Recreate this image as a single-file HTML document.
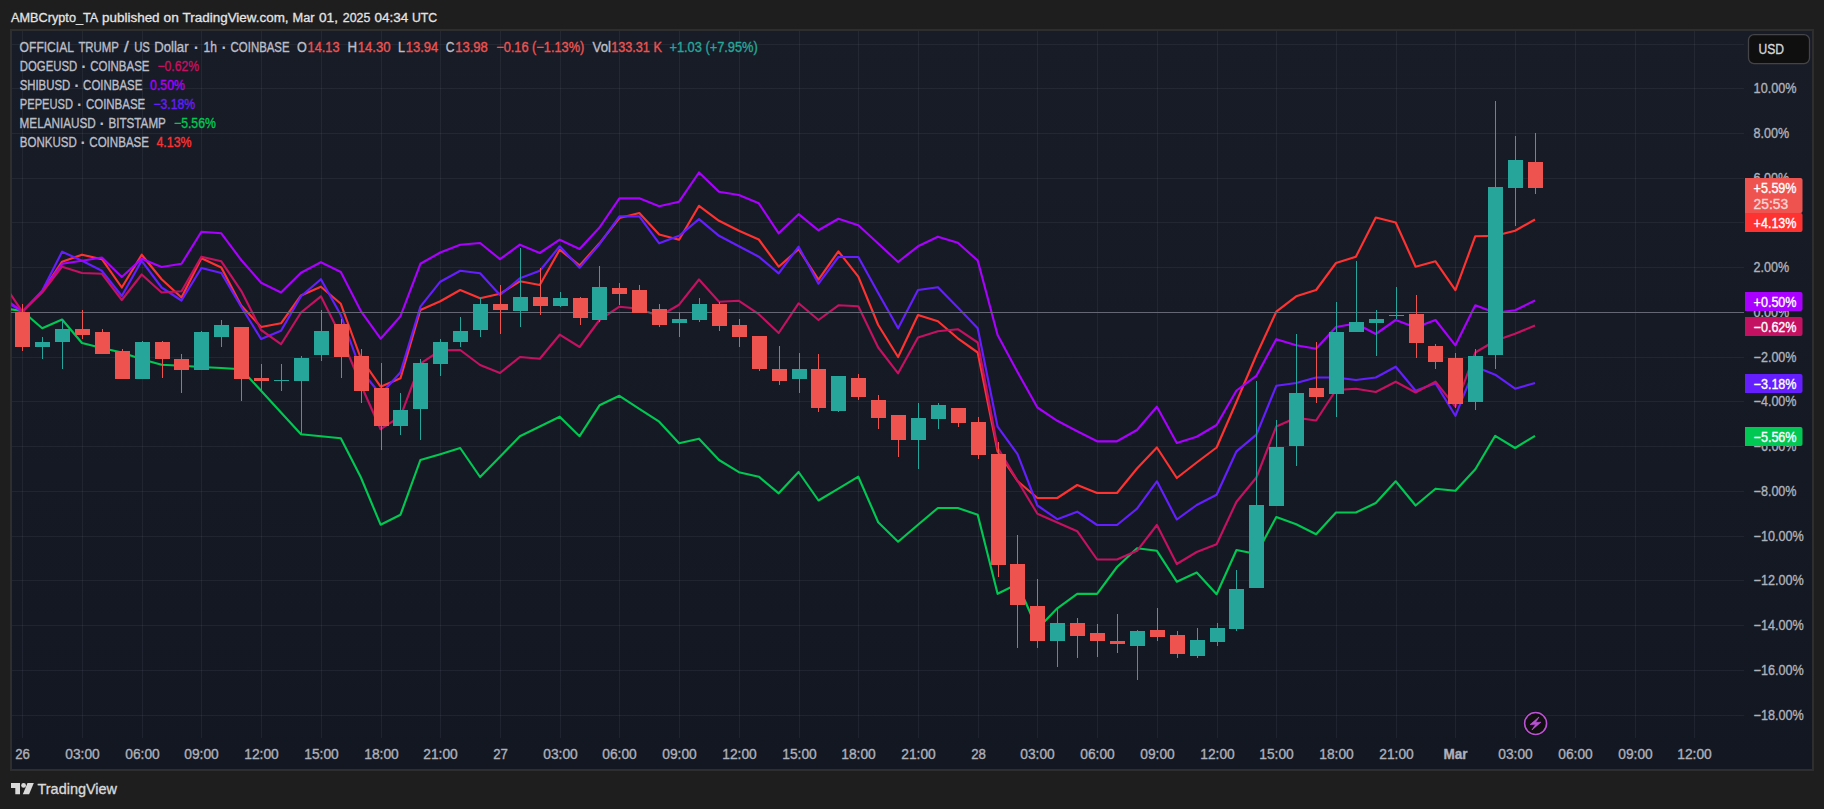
<!DOCTYPE html>
<html lang="en"><head><meta charset="utf-8"><title>OFFICIAL TRUMP / US Dollar - TradingView</title>
<style>html,body{margin:0;padding:0;background:#1e1e1e;overflow:hidden}svg{display:block}text{font-family:"Liberation Sans", sans-serif;white-space:pre}</style>
</head><body>
<svg width="1824" height="809" viewBox="0 0 1824 809">
<defs><linearGradient id="bg" x1="0" y1="0" x2="0" y2="1"><stop offset="0" stop-color="#181c27"/><stop offset="1" stop-color="#131722"/></linearGradient>
<clipPath id="plot"><rect x="11" y="30" width="1733" height="708"/></clipPath></defs>
<rect x="0" y="0" width="1824" height="809" fill="#1e1e1e"/>
<rect x="10" y="29" width="1804" height="742" fill="#2e2e2e"/>
<rect x="12" y="31" width="1800" height="738" fill="url(#bg)"/>
<g shape-rendering="crispEdges" fill="#f0f3fa" fill-opacity="0.06">
<rect x="22" y="31" width="1" height="707"/>
<rect x="82" y="31" width="1" height="707"/>
<rect x="142" y="31" width="1" height="707"/>
<rect x="201" y="31" width="1" height="707"/>
<rect x="261" y="31" width="1" height="707"/>
<rect x="321" y="31" width="1" height="707"/>
<rect x="381" y="31" width="1" height="707"/>
<rect x="440" y="31" width="1" height="707"/>
<rect x="500" y="31" width="1" height="707"/>
<rect x="560" y="31" width="1" height="707"/>
<rect x="619" y="31" width="1" height="707"/>
<rect x="679" y="31" width="1" height="707"/>
<rect x="739" y="31" width="1" height="707"/>
<rect x="799" y="31" width="1" height="707"/>
<rect x="858" y="31" width="1" height="707"/>
<rect x="918" y="31" width="1" height="707"/>
<rect x="978" y="31" width="1" height="707"/>
<rect x="1037" y="31" width="1" height="707"/>
<rect x="1097" y="31" width="1" height="707"/>
<rect x="1157" y="31" width="1" height="707"/>
<rect x="1217" y="31" width="1" height="707"/>
<rect x="1276" y="31" width="1" height="707"/>
<rect x="1336" y="31" width="1" height="707"/>
<rect x="1396" y="31" width="1" height="707"/>
<rect x="1455" y="31" width="1" height="707"/>
<rect x="1515" y="31" width="1" height="707"/>
<rect x="1575" y="31" width="1" height="707"/>
<rect x="1635" y="31" width="1" height="707"/>
<rect x="1694" y="31" width="1" height="707"/>
<rect x="12" y="44" width="1732" height="1"/>
<rect x="12" y="88" width="1732" height="1"/>
<rect x="12" y="133" width="1732" height="1"/>
<rect x="12" y="178" width="1732" height="1"/>
<rect x="12" y="222" width="1732" height="1"/>
<rect x="12" y="267" width="1732" height="1"/>
<rect x="12" y="357" width="1732" height="1"/>
<rect x="12" y="401" width="1732" height="1"/>
<rect x="12" y="446" width="1732" height="1"/>
<rect x="12" y="491" width="1732" height="1"/>
<rect x="12" y="536" width="1732" height="1"/>
<rect x="12" y="580" width="1732" height="1"/>
<rect x="12" y="625" width="1732" height="1"/>
<rect x="12" y="670" width="1732" height="1"/>
<rect x="12" y="715" width="1732" height="1"/>
</g>
<g clip-path="url(#plot)">
<polyline points="22.3,311.7 42.2,291.7 62.1,261.7 82.0,254.7 101.9,259.2 121.8,287.5 141.7,254.7 161.6,279.2 181.5,297.5 201.4,258.3 221.3,267.5 241.2,305.5 261.1,327.0 281.0,323.3 301.0,295.5 320.9,286.7 340.8,303.8 360.7,358.0 380.6,386.7 400.5,378.3 420.4,310.0 440.3,301.3 460.2,290.0 480.1,298.3 500.0,293.8 519.9,281.3 539.8,285.0 559.7,249.7 579.6,265.4 599.5,243.3 619.4,218.0 639.3,213.0 659.2,234.5 679.1,239.7 699.0,205.8 719.0,220.8 738.9,230.8 758.8,239.5 778.7,266.7 798.6,249.2 818.5,279.7 838.4,251.3 858.3,276.7 878.2,325.0 898.1,357.0 918.0,315.0 937.9,321.3 957.8,338.3 977.7,352.5 997.6,451.5 1017.5,481.0 1037.4,498.0 1057.3,498.0 1077.2,485.0 1097.1,493.0 1117.0,493.0 1137.0,468.5 1156.9,447.5 1176.8,478.0 1196.7,462.5 1216.6,447.5 1236.5,401.7 1256.4,355.0 1276.3,311.7 1296.2,296.3 1316.1,290.0 1336.0,263.0 1355.9,256.7 1375.8,217.5 1395.7,222.5 1415.6,266.7 1435.5,261.3 1455.4,290.2 1475.3,236.2 1495.2,235.8 1515.1,230.8 1535.0,219.5" fill="none" stroke="#ff3232" stroke-width="2.15" stroke-linejoin="round" stroke-linecap="butt"/>
<polyline points="2.4,308.0 22.3,311.0 42.2,328.3 62.1,319.5 82.0,343.0 101.9,348.0 121.8,352.5 141.7,359.2 161.6,364.7 181.5,365.8 201.4,367.0 221.3,368.0 241.2,369.2 261.1,390.8 281.0,412.5 301.0,434.2 320.9,436.2 340.8,438.3 360.7,477.0 380.6,524.7 400.5,514.7 420.4,460.0 440.3,454.2 460.2,448.0 480.1,477.0 500.0,456.7 519.9,436.2 539.8,426.5 559.7,416.7 579.6,436.2 599.5,405.3 619.4,395.8 639.3,408.8 659.2,421.7 679.1,443.3 699.0,438.7 719.0,460.0 738.9,472.2 758.8,476.7 778.7,493.3 798.6,472.0 818.5,500.5 838.4,488.7 858.3,476.7 878.2,522.2 898.1,541.7 918.0,524.7 937.9,508.0 957.8,508.0 977.7,514.7 997.6,593.8 1017.5,584.0 1037.4,629.0 1057.3,608.3 1077.2,593.8 1097.1,593.8 1117.0,567.0 1137.0,548.3 1156.9,550.8 1176.8,581.7 1196.7,572.5 1216.6,594.2 1236.5,550.0 1256.4,554.0 1276.3,517.0 1296.2,524.2 1316.1,534.2 1336.0,512.5 1355.9,512.5 1375.8,503.0 1395.7,481.3 1415.6,505.5 1435.5,488.7 1455.4,490.8 1475.3,469.2 1495.2,435.8 1515.1,448.0 1535.0,435.8" fill="none" stroke="#00c853" stroke-width="2.15" stroke-linejoin="round" stroke-linecap="butt"/>
<polyline points="2.4,299.6 22.3,311.7 42.2,290.8 62.1,251.7 82.0,260.8 101.9,270.8 121.8,296.0 141.7,260.8 161.6,287.5 181.5,300.5 201.4,268.0 221.3,273.0 241.2,306.7 261.1,339.0 281.0,330.8 301.0,296.3 320.9,279.2 340.8,315.0 360.7,370.0 380.6,394.5 400.5,372.2 420.4,306.7 440.3,281.7 460.2,270.8 480.1,273.3 500.0,295.0 519.9,278.3 539.8,270.8 559.7,246.3 579.6,267.7 599.5,244.2 619.4,216.3 639.3,216.3 659.2,243.3 679.1,235.8 699.0,219.2 719.0,235.8 738.9,246.2 758.8,256.7 778.7,273.3 798.6,246.7 818.5,283.7 838.4,257.0 858.3,257.0 878.2,293.0 898.1,328.3 918.0,290.0 937.9,287.2 957.8,307.5 977.7,328.3 997.6,426.7 1017.5,454.2 1037.4,505.5 1057.3,519.2 1077.2,511.7 1097.1,525.0 1117.0,525.0 1137.0,508.7 1156.9,481.3 1176.8,519.5 1196.7,505.0 1216.6,494.7 1236.5,451.3 1256.4,434.7 1276.3,385.8 1296.2,383.0 1316.1,377.5 1336.0,377.5 1355.9,380.0 1375.8,377.5 1395.7,366.7 1415.6,390.8 1435.5,383.3 1455.4,415.8 1475.3,366.7 1495.2,374.7 1515.1,388.7 1535.0,383.0" fill="none" stroke="#651fff" stroke-width="2.15" stroke-linejoin="round" stroke-linecap="butt"/>
<polyline points="2.4,296.8 22.3,311.7 42.2,291.3 62.1,263.8 82.0,260.8 101.9,257.5 121.8,277.0 141.7,258.7 161.6,267.0 181.5,263.8 201.4,231.7 221.3,233.3 241.2,260.0 261.1,282.8 281.0,292.5 301.0,272.8 320.9,262.2 340.8,272.0 360.7,310.8 380.6,338.7 400.5,316.2 420.4,263.8 440.3,252.5 460.2,244.7 480.1,243.0 500.0,259.2 519.9,244.7 539.8,253.0 559.7,239.7 579.6,249.0 599.5,227.5 619.4,198.3 639.3,198.3 659.2,206.3 679.1,201.7 699.0,172.5 719.0,191.7 738.9,195.0 758.8,203.3 778.7,233.3 798.6,214.2 818.5,230.3 838.4,218.8 858.3,225.3 878.2,243.5 898.1,262.0 918.0,246.3 937.9,236.7 957.8,242.8 977.7,260.5 997.6,335.0 1017.5,372.0 1037.4,407.5 1057.3,420.8 1077.2,431.3 1097.1,441.3 1117.0,441.3 1137.0,430.0 1156.9,406.7 1176.8,443.0 1196.7,436.7 1216.6,425.0 1236.5,390.5 1256.4,375.8 1276.3,339.2 1296.2,345.3 1316.1,348.7 1336.0,327.0 1355.9,323.5 1375.8,334.0 1395.7,320.0 1415.6,327.5 1435.5,320.0 1455.4,345.3 1475.3,305.3 1495.2,312.8 1515.1,310.3 1535.0,300.5" fill="none" stroke="#aa00ff" stroke-width="2.15" stroke-linejoin="round" stroke-linecap="butt"/>
<polyline points="2.4,282.0 22.3,311.7 42.2,292.5 62.1,266.7 82.0,273.0 101.9,273.8 121.8,300.0 141.7,274.5 161.6,292.5 181.5,291.3 201.4,256.7 221.3,261.3 241.2,290.8 261.1,330.0 281.0,344.2 301.0,312.5 320.9,296.3 340.8,336.0 360.7,384.2 380.6,429.2 400.5,416.3 420.4,363.7 440.3,350.3 460.2,350.0 480.1,365.0 500.0,373.0 519.9,357.0 539.8,358.7 559.7,334.7 579.6,347.0 599.5,320.0 619.4,306.7 639.3,308.7 659.2,316.3 679.1,304.7 699.0,279.5 719.0,301.7 738.9,300.8 758.8,314.2 778.7,333.0 798.6,303.3 818.5,320.0 838.4,305.3 858.3,306.2 878.2,347.5 898.1,373.3 918.0,337.5 937.9,331.3 957.8,329.2 977.7,342.5 997.6,447.5 1017.5,480.8 1037.4,513.7 1057.3,522.5 1077.2,531.2 1097.1,559.5 1117.0,559.5 1137.0,550.8 1156.9,525.0 1176.8,564.0 1196.7,552.0 1216.6,544.2 1236.5,501.7 1256.4,477.5 1276.3,426.5 1296.2,417.8 1316.1,420.5 1336.0,390.0 1355.9,388.7 1375.8,392.0 1395.7,381.7 1415.6,392.5 1435.5,381.7 1455.4,406.7 1475.3,352.5 1495.2,340.8 1515.1,333.8 1535.0,325.5" fill="none" stroke="#c51162" stroke-width="2.15" stroke-linejoin="round" stroke-linecap="butt"/>
<rect x="11" y="312" width="1733" height="1" fill="#656874" shape-rendering="crispEdges"/>
<g shape-rendering="crispEdges">
<rect x="22" y="304" width="1" height="47" fill="#ef5350"/>
<rect x="15" y="312" width="15" height="35" fill="#ef5350"/>
<rect x="42" y="337" width="1" height="22" fill="#26a69a"/>
<rect x="35" y="342" width="15" height="5" fill="#26a69a"/>
<rect x="62" y="319" width="1" height="50" fill="#26a69a"/>
<rect x="55" y="329" width="15" height="13" fill="#26a69a"/>
<rect x="82" y="310" width="1" height="29" fill="#ef5350"/>
<rect x="75" y="329" width="15" height="6" fill="#ef5350"/>
<rect x="102" y="329" width="1" height="25" fill="#ef5350"/>
<rect x="95" y="332" width="15" height="22" fill="#ef5350"/>
<rect x="122" y="349" width="1" height="30" fill="#ef5350"/>
<rect x="115" y="351" width="15" height="28" fill="#ef5350"/>
<rect x="142" y="341" width="1" height="38" fill="#26a69a"/>
<rect x="135" y="342" width="15" height="37" fill="#26a69a"/>
<rect x="162" y="341" width="1" height="37" fill="#ef5350"/>
<rect x="155" y="342" width="15" height="17" fill="#ef5350"/>
<rect x="181" y="354" width="1" height="39" fill="#ef5350"/>
<rect x="174" y="359" width="15" height="11" fill="#ef5350"/>
<rect x="201" y="331" width="1" height="39" fill="#26a69a"/>
<rect x="194" y="332" width="15" height="38" fill="#26a69a"/>
<rect x="221" y="320" width="1" height="27" fill="#26a69a"/>
<rect x="214" y="325" width="15" height="12" fill="#26a69a"/>
<rect x="241" y="327" width="1" height="74" fill="#ef5350"/>
<rect x="234" y="327" width="15" height="52" fill="#ef5350"/>
<rect x="261" y="364" width="1" height="28" fill="#ef5350"/>
<rect x="254" y="378" width="15" height="3" fill="#ef5350"/>
<rect x="281" y="364" width="1" height="27" fill="#26a69a"/>
<rect x="274" y="380" width="15" height="1" fill="#26a69a"/>
<rect x="301" y="356" width="1" height="78" fill="#26a69a"/>
<rect x="294" y="358" width="15" height="23" fill="#26a69a"/>
<rect x="321" y="310" width="1" height="51" fill="#26a69a"/>
<rect x="314" y="331" width="15" height="24" fill="#26a69a"/>
<rect x="341" y="319" width="1" height="59" fill="#ef5350"/>
<rect x="334" y="324" width="15" height="33" fill="#ef5350"/>
<rect x="361" y="349" width="1" height="54" fill="#ef5350"/>
<rect x="354" y="356" width="15" height="35" fill="#ef5350"/>
<rect x="381" y="363" width="1" height="87" fill="#ef5350"/>
<rect x="374" y="388" width="15" height="38" fill="#ef5350"/>
<rect x="400" y="393" width="1" height="42" fill="#26a69a"/>
<rect x="393" y="410" width="15" height="16" fill="#26a69a"/>
<rect x="420" y="359" width="1" height="81" fill="#26a69a"/>
<rect x="413" y="363" width="15" height="46" fill="#26a69a"/>
<rect x="440" y="339" width="1" height="37" fill="#26a69a"/>
<rect x="433" y="342" width="15" height="22" fill="#26a69a"/>
<rect x="460" y="317" width="1" height="30" fill="#26a69a"/>
<rect x="453" y="331" width="15" height="11" fill="#26a69a"/>
<rect x="480" y="298" width="1" height="39" fill="#26a69a"/>
<rect x="473" y="304" width="15" height="26" fill="#26a69a"/>
<rect x="500" y="285" width="1" height="49" fill="#ef5350"/>
<rect x="493" y="304" width="15" height="6" fill="#ef5350"/>
<rect x="520" y="248" width="1" height="79" fill="#26a69a"/>
<rect x="513" y="297" width="15" height="14" fill="#26a69a"/>
<rect x="540" y="268" width="1" height="47" fill="#ef5350"/>
<rect x="533" y="297" width="15" height="9" fill="#ef5350"/>
<rect x="560" y="292" width="1" height="15" fill="#26a69a"/>
<rect x="553" y="298" width="15" height="8" fill="#26a69a"/>
<rect x="580" y="297" width="1" height="28" fill="#ef5350"/>
<rect x="573" y="298" width="15" height="20" fill="#ef5350"/>
<rect x="599" y="266" width="1" height="56" fill="#26a69a"/>
<rect x="592" y="287" width="15" height="33" fill="#26a69a"/>
<rect x="619" y="283" width="1" height="22" fill="#ef5350"/>
<rect x="612" y="288" width="15" height="6" fill="#ef5350"/>
<rect x="639" y="285" width="1" height="28" fill="#ef5350"/>
<rect x="632" y="290" width="15" height="23" fill="#ef5350"/>
<rect x="659" y="304" width="1" height="23" fill="#ef5350"/>
<rect x="652" y="309" width="15" height="16" fill="#ef5350"/>
<rect x="679" y="312" width="1" height="25" fill="#26a69a"/>
<rect x="672" y="319" width="15" height="4" fill="#26a69a"/>
<rect x="699" y="298" width="1" height="24" fill="#26a69a"/>
<rect x="692" y="304" width="15" height="16" fill="#26a69a"/>
<rect x="719" y="302" width="1" height="29" fill="#ef5350"/>
<rect x="712" y="304" width="15" height="22" fill="#ef5350"/>
<rect x="739" y="319" width="1" height="28" fill="#ef5350"/>
<rect x="732" y="325" width="15" height="12" fill="#ef5350"/>
<rect x="759" y="336" width="1" height="35" fill="#ef5350"/>
<rect x="752" y="336" width="15" height="33" fill="#ef5350"/>
<rect x="779" y="346" width="1" height="39" fill="#ef5350"/>
<rect x="772" y="369" width="15" height="12" fill="#ef5350"/>
<rect x="799" y="353" width="1" height="40" fill="#26a69a"/>
<rect x="792" y="369" width="15" height="10" fill="#26a69a"/>
<rect x="818" y="354" width="1" height="58" fill="#ef5350"/>
<rect x="811" y="369" width="15" height="39" fill="#ef5350"/>
<rect x="838" y="376" width="1" height="36" fill="#26a69a"/>
<rect x="831" y="376" width="15" height="35" fill="#26a69a"/>
<rect x="858" y="374" width="1" height="26" fill="#ef5350"/>
<rect x="851" y="378" width="15" height="19" fill="#ef5350"/>
<rect x="878" y="395" width="1" height="34" fill="#ef5350"/>
<rect x="871" y="400" width="15" height="18" fill="#ef5350"/>
<rect x="898" y="415" width="1" height="42" fill="#ef5350"/>
<rect x="891" y="415" width="15" height="25" fill="#ef5350"/>
<rect x="918" y="403" width="1" height="66" fill="#26a69a"/>
<rect x="911" y="418" width="15" height="22" fill="#26a69a"/>
<rect x="938" y="403" width="1" height="26" fill="#26a69a"/>
<rect x="931" y="405" width="15" height="14" fill="#26a69a"/>
<rect x="958" y="408" width="1" height="19" fill="#ef5350"/>
<rect x="951" y="408" width="15" height="15" fill="#ef5350"/>
<rect x="978" y="417" width="1" height="42" fill="#ef5350"/>
<rect x="971" y="422" width="15" height="33" fill="#ef5350"/>
<rect x="998" y="442" width="1" height="135" fill="#ef5350"/>
<rect x="991" y="454" width="15" height="111" fill="#ef5350"/>
<rect x="1017" y="535" width="1" height="113" fill="#ef5350"/>
<rect x="1010" y="564" width="15" height="41" fill="#ef5350"/>
<rect x="1037" y="579" width="1" height="69" fill="#ef5350"/>
<rect x="1030" y="606" width="15" height="35" fill="#ef5350"/>
<rect x="1057" y="609" width="1" height="58" fill="#26a69a"/>
<rect x="1050" y="623" width="15" height="18" fill="#26a69a"/>
<rect x="1077" y="618" width="1" height="40" fill="#ef5350"/>
<rect x="1070" y="623" width="15" height="13" fill="#ef5350"/>
<rect x="1097" y="624" width="1" height="33" fill="#ef5350"/>
<rect x="1090" y="633" width="15" height="8" fill="#ef5350"/>
<rect x="1117" y="614" width="1" height="39" fill="#ef5350"/>
<rect x="1110" y="641" width="15" height="3" fill="#ef5350"/>
<rect x="1137" y="630" width="1" height="50" fill="#26a69a"/>
<rect x="1130" y="631" width="15" height="15" fill="#26a69a"/>
<rect x="1157" y="608" width="1" height="33" fill="#ef5350"/>
<rect x="1150" y="630" width="15" height="7" fill="#ef5350"/>
<rect x="1177" y="631" width="1" height="27" fill="#ef5350"/>
<rect x="1170" y="635" width="15" height="19" fill="#ef5350"/>
<rect x="1197" y="628" width="1" height="30" fill="#26a69a"/>
<rect x="1190" y="640" width="15" height="16" fill="#26a69a"/>
<rect x="1217" y="623" width="1" height="23" fill="#26a69a"/>
<rect x="1210" y="628" width="15" height="14" fill="#26a69a"/>
<rect x="1236" y="570" width="1" height="61" fill="#26a69a"/>
<rect x="1229" y="589" width="15" height="40" fill="#26a69a"/>
<rect x="1256" y="381" width="1" height="207" fill="#26a69a"/>
<rect x="1249" y="505" width="15" height="83" fill="#26a69a"/>
<rect x="1276" y="420" width="1" height="86" fill="#26a69a"/>
<rect x="1269" y="447" width="15" height="59" fill="#26a69a"/>
<rect x="1296" y="334" width="1" height="132" fill="#26a69a"/>
<rect x="1289" y="393" width="15" height="53" fill="#26a69a"/>
<rect x="1316" y="342" width="1" height="61" fill="#ef5350"/>
<rect x="1309" y="388" width="15" height="9" fill="#ef5350"/>
<rect x="1336" y="302" width="1" height="115" fill="#26a69a"/>
<rect x="1329" y="332" width="15" height="62" fill="#26a69a"/>
<rect x="1356" y="261" width="1" height="71" fill="#26a69a"/>
<rect x="1349" y="322" width="15" height="10" fill="#26a69a"/>
<rect x="1376" y="310" width="1" height="46" fill="#26a69a"/>
<rect x="1369" y="319" width="15" height="4" fill="#26a69a"/>
<rect x="1396" y="287" width="1" height="32" fill="#26a69a"/>
<rect x="1389" y="315" width="15" height="1" fill="#26a69a"/>
<rect x="1416" y="295" width="1" height="63" fill="#ef5350"/>
<rect x="1409" y="314" width="15" height="29" fill="#ef5350"/>
<rect x="1435" y="344" width="1" height="25" fill="#ef5350"/>
<rect x="1428" y="346" width="15" height="16" fill="#ef5350"/>
<rect x="1455" y="353" width="1" height="55" fill="#ef5350"/>
<rect x="1448" y="358" width="15" height="46" fill="#ef5350"/>
<rect x="1475" y="349" width="1" height="61" fill="#26a69a"/>
<rect x="1468" y="356" width="15" height="46" fill="#26a69a"/>
<rect x="1495" y="101" width="1" height="268" fill="#26a69a"/>
<rect x="1488" y="187" width="15" height="168" fill="#26a69a"/>
<rect x="1515" y="136" width="1" height="90" fill="#26a69a"/>
<rect x="1508" y="160" width="15" height="28" fill="#26a69a"/>
<rect x="1535" y="133" width="1" height="61" fill="#ef5350"/>
<rect x="1528" y="162" width="15" height="26" fill="#ef5350"/>
</g>
</g>
<g id="header">
<text x="11.0" y="21.9" font-size="13.7" fill="#e4e4e4" stroke="#e4e4e4" stroke-width="0.3" textLength="87.3" lengthAdjust="spacingAndGlyphs">AMBCrypto_TA</text>
<text x="102.0" y="21.9" font-size="13.7" fill="#e4e4e4" stroke="#e4e4e4" stroke-width="0.3" textLength="57.6" lengthAdjust="spacingAndGlyphs">published</text>
<text x="163.6" y="21.9" font-size="13.7" fill="#e4e4e4" stroke="#e4e4e4" stroke-width="0.3" textLength="15.2" lengthAdjust="spacingAndGlyphs">on</text>
<text x="182.6" y="21.9" font-size="13.7" fill="#e4e4e4" stroke="#e4e4e4" stroke-width="0.3" textLength="106.0" lengthAdjust="spacingAndGlyphs">TradingView.com,</text>
<text x="292.6" y="21.9" font-size="13.7" fill="#e4e4e4" stroke="#e4e4e4" stroke-width="0.3" textLength="22.0" lengthAdjust="spacingAndGlyphs">Mar</text>
<text x="319.0" y="21.9" font-size="13.7" fill="#e4e4e4" stroke="#e4e4e4" stroke-width="0.3" textLength="19.0" lengthAdjust="spacingAndGlyphs">01,</text>
<text x="342.8" y="21.9" font-size="13.7" fill="#e4e4e4" stroke="#e4e4e4" stroke-width="0.3" textLength="27.5" lengthAdjust="spacingAndGlyphs">2025</text>
<text x="374.6" y="21.9" font-size="13.7" fill="#e4e4e4" stroke="#e4e4e4" stroke-width="0.3" textLength="33.8" lengthAdjust="spacingAndGlyphs">04:34</text>
<text x="412.0" y="21.9" font-size="13.7" fill="#e4e4e4" stroke="#e4e4e4" stroke-width="0.3" textLength="25.2" lengthAdjust="spacingAndGlyphs">UTC</text>
</g>
<g id="legend">
<text x="19.6" y="52.0" font-size="13.8" fill="#bbbec7" stroke="#bbbec7" stroke-width="0.35" textLength="54.4" lengthAdjust="spacingAndGlyphs">OFFICIAL</text>
<text x="78.4" y="52.0" font-size="13.8" fill="#bbbec7" stroke="#bbbec7" stroke-width="0.35" textLength="40.6" lengthAdjust="spacingAndGlyphs">TRUMP</text>
<text x="124.0" y="52.0" font-size="13.8" fill="#bbbec7" stroke="#bbbec7" stroke-width="0.35" textLength="4.8" lengthAdjust="spacingAndGlyphs">/</text>
<text x="134.2" y="52.0" font-size="13.8" fill="#bbbec7" stroke="#bbbec7" stroke-width="0.35" textLength="15.7" lengthAdjust="spacingAndGlyphs">US</text>
<text x="154.2" y="52.0" font-size="13.8" fill="#bbbec7" stroke="#bbbec7" stroke-width="0.35" textLength="34.4" lengthAdjust="spacingAndGlyphs">Dollar</text>
<text x="196.4" y="53.2" font-size="16" fill="#bbbec7" text-anchor="middle" font-weight="bold">·</text>
<text x="203.6" y="52.0" font-size="13.8" fill="#bbbec7" stroke="#bbbec7" stroke-width="0.35" textLength="13.4" lengthAdjust="spacingAndGlyphs">1h</text>
<text x="224.1" y="53.2" font-size="16" fill="#bbbec7" text-anchor="middle" font-weight="bold">·</text>
<text x="230.6" y="52.0" font-size="13.8" fill="#bbbec7" stroke="#bbbec7" stroke-width="0.35" textLength="59.0" lengthAdjust="spacingAndGlyphs">COINBASE</text>
<text x="297.0" y="52.0" font-size="13.8" fill="#bbbec7" stroke="#bbbec7" stroke-width="0.35" textLength="9.8" lengthAdjust="spacingAndGlyphs">O</text>
<text x="307.6" y="52.0" font-size="13.8" fill="#ef5350" stroke="#ef5350" stroke-width="0.35" textLength="32.0" lengthAdjust="spacingAndGlyphs">14.13</text>
<text x="347.4" y="52.0" font-size="13.8" fill="#bbbec7" stroke="#bbbec7" stroke-width="0.35" textLength="9.6" lengthAdjust="spacingAndGlyphs">H</text>
<text x="357.8" y="52.0" font-size="13.8" fill="#ef5350" stroke="#ef5350" stroke-width="0.35" textLength="32.8" lengthAdjust="spacingAndGlyphs">14.30</text>
<text x="398.0" y="52.0" font-size="13.8" fill="#bbbec7" stroke="#bbbec7" stroke-width="0.35" textLength="7.0" lengthAdjust="spacingAndGlyphs">L</text>
<text x="405.8" y="52.0" font-size="13.8" fill="#ef5350" stroke="#ef5350" stroke-width="0.35" textLength="32.5" lengthAdjust="spacingAndGlyphs">13.94</text>
<text x="445.8" y="52.0" font-size="13.8" fill="#bbbec7" stroke="#bbbec7" stroke-width="0.35" textLength="8.7" lengthAdjust="spacingAndGlyphs">C</text>
<text x="455.2" y="52.0" font-size="13.8" fill="#ef5350" stroke="#ef5350" stroke-width="0.35" textLength="32.6" lengthAdjust="spacingAndGlyphs">13.98</text>
<text x="496.2" y="52.0" font-size="13.8" fill="#ef5350" stroke="#ef5350" stroke-width="0.35" textLength="88.2" lengthAdjust="spacingAndGlyphs">−0.16 (−1.13%)</text>
<text x="592.6" y="52.0" font-size="13.8" fill="#bbbec7" stroke="#bbbec7" stroke-width="0.35" textLength="18.4" lengthAdjust="spacingAndGlyphs">Vol</text>
<text x="611.2" y="52.0" font-size="13.8" fill="#ef5350" stroke="#ef5350" stroke-width="0.35" textLength="50.7" lengthAdjust="spacingAndGlyphs">133.31 K</text>
<text x="669.4" y="52.0" font-size="13.8" fill="#26a69a" stroke="#26a69a" stroke-width="0.35" textLength="88.4" lengthAdjust="spacingAndGlyphs">+1.03 (+7.95%)</text>
<text x="19.8" y="71.0" font-size="13.8" fill="#bbbec7" stroke="#bbbec7" stroke-width="0.35" textLength="57.5" lengthAdjust="spacingAndGlyphs">DOGEUSD</text>
<text x="84.0" y="72.2" font-size="16" fill="#bbbec7" text-anchor="middle" font-weight="bold">·</text>
<text x="90.2" y="71.0" font-size="13.8" fill="#bbbec7" stroke="#bbbec7" stroke-width="0.35" textLength="59.3" lengthAdjust="spacingAndGlyphs">COINBASE</text>
<text x="157.4" y="71.0" font-size="13.8" fill="#c51162" stroke="#c51162" stroke-width="0.35" textLength="41.8" lengthAdjust="spacingAndGlyphs">−0.62%</text>
<text x="19.7" y="90.0" font-size="13.8" fill="#bbbec7" stroke="#bbbec7" stroke-width="0.35" textLength="50.5" lengthAdjust="spacingAndGlyphs">SHIBUSD</text>
<text x="76.9" y="91.2" font-size="16" fill="#bbbec7" text-anchor="middle" font-weight="bold">·</text>
<text x="83.1" y="90.0" font-size="13.8" fill="#bbbec7" stroke="#bbbec7" stroke-width="0.35" textLength="59.3" lengthAdjust="spacingAndGlyphs">COINBASE</text>
<text x="150.1" y="90.0" font-size="13.8" fill="#aa00ff" stroke="#aa00ff" stroke-width="0.35" textLength="34.8" lengthAdjust="spacingAndGlyphs">0.50%</text>
<text x="19.8" y="109.0" font-size="13.8" fill="#bbbec7" stroke="#bbbec7" stroke-width="0.35" textLength="53.2" lengthAdjust="spacingAndGlyphs">PEPEUSD</text>
<text x="79.6" y="110.2" font-size="16" fill="#bbbec7" text-anchor="middle" font-weight="bold">·</text>
<text x="85.9" y="109.0" font-size="13.8" fill="#bbbec7" stroke="#bbbec7" stroke-width="0.35" textLength="59.4" lengthAdjust="spacingAndGlyphs">COINBASE</text>
<text x="153.4" y="109.0" font-size="13.8" fill="#651fff" stroke="#651fff" stroke-width="0.35" textLength="41.8" lengthAdjust="spacingAndGlyphs">−3.18%</text>
<text x="19.6" y="128.0" font-size="13.8" fill="#bbbec7" stroke="#bbbec7" stroke-width="0.35" textLength="76.2" lengthAdjust="spacingAndGlyphs">MELANIAUSD</text>
<text x="102.1" y="129.2" font-size="16" fill="#bbbec7" text-anchor="middle" font-weight="bold">·</text>
<text x="108.4" y="128.0" font-size="13.8" fill="#bbbec7" stroke="#bbbec7" stroke-width="0.35" textLength="57.5" lengthAdjust="spacingAndGlyphs">BITSTAMP</text>
<text x="174.0" y="128.0" font-size="13.8" fill="#00c853" stroke="#00c853" stroke-width="0.35" textLength="41.8" lengthAdjust="spacingAndGlyphs">−5.56%</text>
<text x="19.8" y="147.0" font-size="13.8" fill="#bbbec7" stroke="#bbbec7" stroke-width="0.35" textLength="57.0" lengthAdjust="spacingAndGlyphs">BONKUSD</text>
<text x="83.1" y="148.2" font-size="16" fill="#bbbec7" text-anchor="middle" font-weight="bold">·</text>
<text x="89.3" y="147.0" font-size="13.8" fill="#bbbec7" stroke="#bbbec7" stroke-width="0.35" textLength="59.7" lengthAdjust="spacingAndGlyphs">COINBASE</text>
<text x="156.5" y="147.0" font-size="13.8" fill="#ff3232" stroke="#ff3232" stroke-width="0.35" textLength="35.0" lengthAdjust="spacingAndGlyphs">4.13%</text>
</g>
<text x="1753.6" y="93.4" font-size="14.0" fill="#aeb1ba" stroke="#aeb1ba" stroke-width="0.35" textLength="42.9" lengthAdjust="spacingAndGlyphs">10.00%</text>
<text x="1753.6" y="138.4" font-size="14.0" fill="#aeb1ba" stroke="#aeb1ba" stroke-width="0.35" textLength="35.6" lengthAdjust="spacingAndGlyphs">8.00%</text>
<text x="1753.6" y="183.4" font-size="14.0" fill="#aeb1ba" stroke="#aeb1ba" stroke-width="0.35" textLength="35.6" lengthAdjust="spacingAndGlyphs">6.00%</text>
<text x="1753.6" y="227.4" font-size="14.0" fill="#aeb1ba" stroke="#aeb1ba" stroke-width="0.35" textLength="35.6" lengthAdjust="spacingAndGlyphs">4.00%</text>
<text x="1753.6" y="272.4" font-size="14.0" fill="#aeb1ba" stroke="#aeb1ba" stroke-width="0.35" textLength="35.6" lengthAdjust="spacingAndGlyphs">2.00%</text>
<text x="1753.6" y="317.4" font-size="14.0" fill="#aeb1ba" stroke="#aeb1ba" stroke-width="0.35" textLength="35.6" lengthAdjust="spacingAndGlyphs">0.00%</text>
<text x="1753.6" y="362.4" font-size="14.0" fill="#aeb1ba" stroke="#aeb1ba" stroke-width="0.35" textLength="42.9" lengthAdjust="spacingAndGlyphs">−2.00%</text>
<text x="1753.6" y="406.4" font-size="14.0" fill="#aeb1ba" stroke="#aeb1ba" stroke-width="0.35" textLength="42.9" lengthAdjust="spacingAndGlyphs">−4.00%</text>
<text x="1753.6" y="451.4" font-size="14.0" fill="#aeb1ba" stroke="#aeb1ba" stroke-width="0.35" textLength="42.9" lengthAdjust="spacingAndGlyphs">−6.00%</text>
<text x="1753.6" y="496.4" font-size="14.0" fill="#aeb1ba" stroke="#aeb1ba" stroke-width="0.35" textLength="42.9" lengthAdjust="spacingAndGlyphs">−8.00%</text>
<text x="1753.6" y="541.4" font-size="14.0" fill="#aeb1ba" stroke="#aeb1ba" stroke-width="0.35" textLength="50.2" lengthAdjust="spacingAndGlyphs">−10.00%</text>
<text x="1753.6" y="585.4" font-size="14.0" fill="#aeb1ba" stroke="#aeb1ba" stroke-width="0.35" textLength="50.2" lengthAdjust="spacingAndGlyphs">−12.00%</text>
<text x="1753.6" y="630.4" font-size="14.0" fill="#aeb1ba" stroke="#aeb1ba" stroke-width="0.35" textLength="50.2" lengthAdjust="spacingAndGlyphs">−14.00%</text>
<text x="1753.6" y="675.4" font-size="14.0" fill="#aeb1ba" stroke="#aeb1ba" stroke-width="0.35" textLength="50.2" lengthAdjust="spacingAndGlyphs">−16.00%</text>
<text x="1753.6" y="720.4" font-size="14.0" fill="#aeb1ba" stroke="#aeb1ba" stroke-width="0.35" textLength="50.2" lengthAdjust="spacingAndGlyphs">−18.00%</text>
<path d="M1745 178 H1800.5 a2 2 0 0 1 2 2 V211 a2 2 0 0 1 -2 2 H1745 Z" fill="#ef5350"/>
<text x="1753.6" y="193.0" font-size="14.0" fill="#ffffff" stroke="#ffffff" stroke-width="0.35" textLength="42.9" lengthAdjust="spacingAndGlyphs">+5.59%</text>
<text x="1753.6" y="208.8" font-size="14.0" fill="#fbd4d3" stroke="#fbd4d3" stroke-width="0.35" textLength="34.5" lengthAdjust="spacingAndGlyphs">25:53</text>
<path d="M1745 213 H1800.5 a2 2 0 0 1 2 2 V230 a2 2 0 0 1 -2 2 H1745 Z" fill="#ff3232"/>
<text x="1753.6" y="227.6" font-size="14.0" fill="#ffffff" stroke="#ffffff" stroke-width="0.35" textLength="42.9" lengthAdjust="spacingAndGlyphs">+4.13%</text>
<path d="M1745 292 H1800.5 a2 2 0 0 1 2 2 V309 a2 2 0 0 1 -2 2 H1745 Z" fill="#aa00ff"/>
<text x="1753.6" y="306.6" font-size="14.0" fill="#ffffff" stroke="#ffffff" stroke-width="0.35" textLength="42.9" lengthAdjust="spacingAndGlyphs">+0.50%</text>
<path d="M1745 317 H1800.5 a2 2 0 0 1 2 2 V334 a2 2 0 0 1 -2 2 H1745 Z" fill="#c51162"/>
<text x="1753.6" y="331.6" font-size="14.0" fill="#ffffff" stroke="#ffffff" stroke-width="0.35" textLength="42.9" lengthAdjust="spacingAndGlyphs">−0.62%</text>
<path d="M1745 374 H1800.5 a2 2 0 0 1 2 2 V391 a2 2 0 0 1 -2 2 H1745 Z" fill="#651fff"/>
<text x="1753.6" y="388.6" font-size="14.0" fill="#ffffff" stroke="#ffffff" stroke-width="0.35" textLength="42.9" lengthAdjust="spacingAndGlyphs">−3.18%</text>
<path d="M1745 427 H1800.5 a2 2 0 0 1 2 2 V444 a2 2 0 0 1 -2 2 H1745 Z" fill="#00c853"/>
<text x="1753.6" y="441.6" font-size="14.0" fill="#ffffff" stroke="#ffffff" stroke-width="0.35" textLength="42.9" lengthAdjust="spacingAndGlyphs">−5.56%</text>
<rect x="1748.5" y="34.6" width="61" height="29" rx="5.5" fill="#0f0f0f" stroke="#444448" stroke-width="1.3"/>
<text x="1758.6" y="53.7" font-size="14.0" fill="#d6d6d6" stroke="#d6d6d6" stroke-width="0.35" textLength="25.5" lengthAdjust="spacingAndGlyphs">USD</text>
<text x="22.5" y="759.0" font-size="14.0" fill="#aeb1ba" stroke="#aeb1ba" stroke-width="0.35" text-anchor="middle" textLength="14.7" lengthAdjust="spacingAndGlyphs">26</text>
<text x="82.5" y="759.0" font-size="14.0" fill="#aeb1ba" stroke="#aeb1ba" stroke-width="0.35" text-anchor="middle" textLength="34.5" lengthAdjust="spacingAndGlyphs">03:00</text>
<text x="142.5" y="759.0" font-size="14.0" fill="#aeb1ba" stroke="#aeb1ba" stroke-width="0.35" text-anchor="middle" textLength="34.5" lengthAdjust="spacingAndGlyphs">06:00</text>
<text x="201.5" y="759.0" font-size="14.0" fill="#aeb1ba" stroke="#aeb1ba" stroke-width="0.35" text-anchor="middle" textLength="34.5" lengthAdjust="spacingAndGlyphs">09:00</text>
<text x="261.5" y="759.0" font-size="14.0" fill="#aeb1ba" stroke="#aeb1ba" stroke-width="0.35" text-anchor="middle" textLength="34.5" lengthAdjust="spacingAndGlyphs">12:00</text>
<text x="321.5" y="759.0" font-size="14.0" fill="#aeb1ba" stroke="#aeb1ba" stroke-width="0.35" text-anchor="middle" textLength="34.5" lengthAdjust="spacingAndGlyphs">15:00</text>
<text x="381.5" y="759.0" font-size="14.0" fill="#aeb1ba" stroke="#aeb1ba" stroke-width="0.35" text-anchor="middle" textLength="34.5" lengthAdjust="spacingAndGlyphs">18:00</text>
<text x="440.5" y="759.0" font-size="14.0" fill="#aeb1ba" stroke="#aeb1ba" stroke-width="0.35" text-anchor="middle" textLength="34.5" lengthAdjust="spacingAndGlyphs">21:00</text>
<text x="500.5" y="759.0" font-size="14.0" fill="#aeb1ba" stroke="#aeb1ba" stroke-width="0.35" text-anchor="middle" textLength="14.7" lengthAdjust="spacingAndGlyphs">27</text>
<text x="560.5" y="759.0" font-size="14.0" fill="#aeb1ba" stroke="#aeb1ba" stroke-width="0.35" text-anchor="middle" textLength="34.5" lengthAdjust="spacingAndGlyphs">03:00</text>
<text x="619.5" y="759.0" font-size="14.0" fill="#aeb1ba" stroke="#aeb1ba" stroke-width="0.35" text-anchor="middle" textLength="34.5" lengthAdjust="spacingAndGlyphs">06:00</text>
<text x="679.5" y="759.0" font-size="14.0" fill="#aeb1ba" stroke="#aeb1ba" stroke-width="0.35" text-anchor="middle" textLength="34.5" lengthAdjust="spacingAndGlyphs">09:00</text>
<text x="739.5" y="759.0" font-size="14.0" fill="#aeb1ba" stroke="#aeb1ba" stroke-width="0.35" text-anchor="middle" textLength="34.5" lengthAdjust="spacingAndGlyphs">12:00</text>
<text x="799.5" y="759.0" font-size="14.0" fill="#aeb1ba" stroke="#aeb1ba" stroke-width="0.35" text-anchor="middle" textLength="34.5" lengthAdjust="spacingAndGlyphs">15:00</text>
<text x="858.5" y="759.0" font-size="14.0" fill="#aeb1ba" stroke="#aeb1ba" stroke-width="0.35" text-anchor="middle" textLength="34.5" lengthAdjust="spacingAndGlyphs">18:00</text>
<text x="918.5" y="759.0" font-size="14.0" fill="#aeb1ba" stroke="#aeb1ba" stroke-width="0.35" text-anchor="middle" textLength="34.5" lengthAdjust="spacingAndGlyphs">21:00</text>
<text x="978.5" y="759.0" font-size="14.0" fill="#aeb1ba" stroke="#aeb1ba" stroke-width="0.35" text-anchor="middle" textLength="14.7" lengthAdjust="spacingAndGlyphs">28</text>
<text x="1037.5" y="759.0" font-size="14.0" fill="#aeb1ba" stroke="#aeb1ba" stroke-width="0.35" text-anchor="middle" textLength="34.5" lengthAdjust="spacingAndGlyphs">03:00</text>
<text x="1097.5" y="759.0" font-size="14.0" fill="#aeb1ba" stroke="#aeb1ba" stroke-width="0.35" text-anchor="middle" textLength="34.5" lengthAdjust="spacingAndGlyphs">06:00</text>
<text x="1157.5" y="759.0" font-size="14.0" fill="#aeb1ba" stroke="#aeb1ba" stroke-width="0.35" text-anchor="middle" textLength="34.5" lengthAdjust="spacingAndGlyphs">09:00</text>
<text x="1217.5" y="759.0" font-size="14.0" fill="#aeb1ba" stroke="#aeb1ba" stroke-width="0.35" text-anchor="middle" textLength="34.5" lengthAdjust="spacingAndGlyphs">12:00</text>
<text x="1276.5" y="759.0" font-size="14.0" fill="#aeb1ba" stroke="#aeb1ba" stroke-width="0.35" text-anchor="middle" textLength="34.5" lengthAdjust="spacingAndGlyphs">15:00</text>
<text x="1336.5" y="759.0" font-size="14.0" fill="#aeb1ba" stroke="#aeb1ba" stroke-width="0.35" text-anchor="middle" textLength="34.5" lengthAdjust="spacingAndGlyphs">18:00</text>
<text x="1396.5" y="759.0" font-size="14.0" fill="#aeb1ba" stroke="#aeb1ba" stroke-width="0.35" text-anchor="middle" textLength="34.5" lengthAdjust="spacingAndGlyphs">21:00</text>
<text x="1455.5" y="759.0" font-size="14.0" fill="#aeb1ba" stroke="#aeb1ba" stroke-width="0.35" text-anchor="middle" font-weight="bold" textLength="24" lengthAdjust="spacingAndGlyphs">Mar</text>
<text x="1515.5" y="759.0" font-size="14.0" fill="#aeb1ba" stroke="#aeb1ba" stroke-width="0.35" text-anchor="middle" textLength="34.5" lengthAdjust="spacingAndGlyphs">03:00</text>
<text x="1575.5" y="759.0" font-size="14.0" fill="#aeb1ba" stroke="#aeb1ba" stroke-width="0.35" text-anchor="middle" textLength="34.5" lengthAdjust="spacingAndGlyphs">06:00</text>
<text x="1635.5" y="759.0" font-size="14.0" fill="#aeb1ba" stroke="#aeb1ba" stroke-width="0.35" text-anchor="middle" textLength="34.5" lengthAdjust="spacingAndGlyphs">09:00</text>
<text x="1694.5" y="759.0" font-size="14.0" fill="#aeb1ba" stroke="#aeb1ba" stroke-width="0.35" text-anchor="middle" textLength="34.5" lengthAdjust="spacingAndGlyphs">12:00</text>
<circle cx="1535.6" cy="723.5" r="12.3" fill="#0f0f0f"/>
<circle cx="1535.6" cy="723.5" r="11" fill="none" stroke="#bb52d6" stroke-width="1.6"/>
<polygon points="1539.0,717.0 1530.1,724.6 1535.7,724.3 1531.9,730.0 1540.9,722.2 1535.5,722.6" fill="#bb52d6" stroke="#bb52d6" stroke-width="0.7" stroke-linejoin="round"/>
<g fill="#d9d9d9"><path d="M11 783 H20 V794.3 H15.3 V788 H11 Z"/><circle cx="23.6" cy="785.4" r="2.4"/><path d="M27.5 783 H33.8 L29.1 794.3 H22.8 Z"/></g>
<text x="37.5" y="794.2" font-size="15" fill="#d9d9d9" stroke="#d9d9d9" stroke-width="0.35" textLength="79.5" lengthAdjust="spacingAndGlyphs">TradingView</text>
</svg>
</body></html>
